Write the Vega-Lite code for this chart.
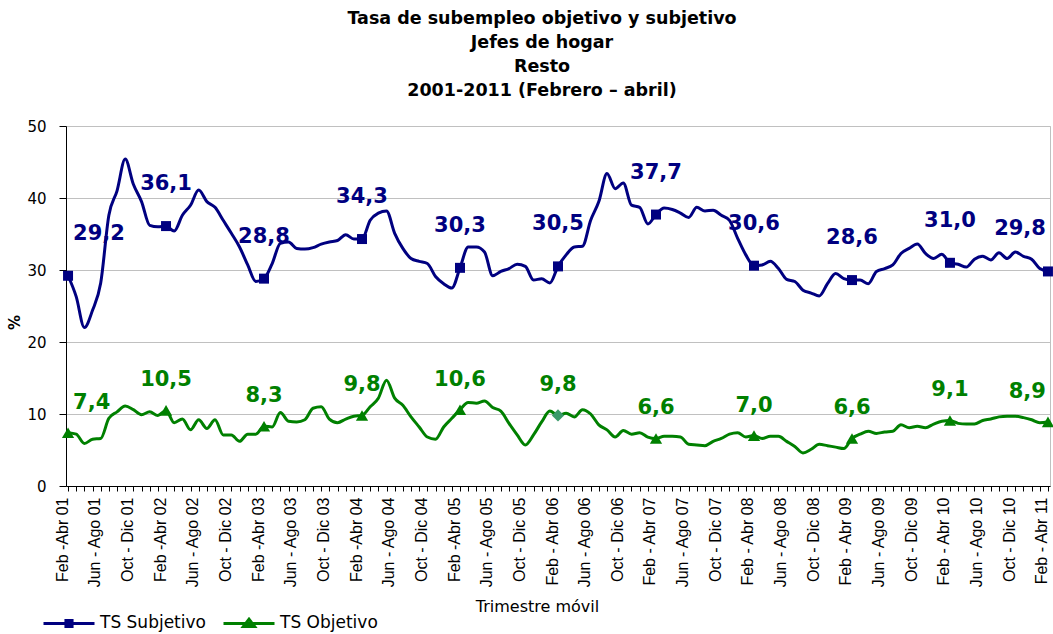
{
  "$schema": "https://vega.github.io/schema/vega-lite/v6.json",
  "width": 984,
  "height": 360,
  "autosize": {"type": "none"},
  "padding": {"left": 66, "top": 126, "right": 3, "bottom": 148},
  "background": "white",
  "title": {
    "text": ["Tasa de subempleo objetivo y subjetivo", "Jefes de hogar", "Resto", "2001-2011 (Febrero – abril)"],
    "anchor": "middle",
    "font": "DejaVu Sans",
    "fontSize": 17.5,
    "fontWeight": "bold",
    "color": "black",
    "lineHeight": 24,
    "offset": 20,
    "dx": -16
  },
  "data": {
    "values": [
      {"t": "Feb -Abr 01", "TS Subjetivo": 29.2, "TS Objetivo": 7.4},
      {"t": "Mar - May 01", "TS Subjetivo": 26.3, "TS Objetivo": 7.2},
      {"t": "Abr - Jun 01", "TS Subjetivo": 22.0, "TS Objetivo": 5.9},
      {"t": "May - Jul 01", "TS Subjetivo": 24.4, "TS Objetivo": 6.5},
      {"t": "Jun - Ago 01", "TS Subjetivo": 28.2, "TS Objetivo": 6.6},
      {"t": "Jul - Sep 01", "TS Subjetivo": 37.6, "TS Objetivo": 9.4},
      {"t": "Ago - Oct 01", "TS Subjetivo": 41.0, "TS Objetivo": 10.3},
      {"t": "Sep - Nov 01", "TS Subjetivo": 45.4, "TS Objetivo": 11.1},
      {"t": "Oct - Dic 01", "TS Subjetivo": 41.9, "TS Objetivo": 10.6},
      {"t": "Nov - Ene 02", "TS Subjetivo": 39.5, "TS Objetivo": 9.9},
      {"t": "Dic - Feb 02", "TS Subjetivo": 36.2, "TS Objetivo": 10.3},
      {"t": "Ene - Mar 02", "TS Subjetivo": 36.0, "TS Objetivo": 9.8},
      {"t": "Feb -Abr 02", "TS Subjetivo": 36.1, "TS Objetivo": 10.5},
      {"t": "Mar - May 02", "TS Subjetivo": 35.4, "TS Objetivo": 8.8},
      {"t": "Abr - Jun 02", "TS Subjetivo": 37.6, "TS Objetivo": 9.3},
      {"t": "May - Jul 02", "TS Subjetivo": 39.0, "TS Objetivo": 7.8},
      {"t": "Jun - Ago 02", "TS Subjetivo": 41.1, "TS Objetivo": 9.2},
      {"t": "Jul - Sep 02", "TS Subjetivo": 39.5, "TS Objetivo": 8.0},
      {"t": "Ago - Oct 02", "TS Subjetivo": 38.7, "TS Objetivo": 9.2},
      {"t": "Sep - Nov 02", "TS Subjetivo": 36.9, "TS Objetivo": 7.1},
      {"t": "Oct - Dic 02", "TS Subjetivo": 35.1, "TS Objetivo": 7.1},
      {"t": "Nov - Ene 03", "TS Subjetivo": 33.2, "TS Objetivo": 6.2},
      {"t": "Dic - Feb 03", "TS Subjetivo": 30.7, "TS Objetivo": 7.2},
      {"t": "Ene - Mar 03", "TS Subjetivo": 28.4, "TS Objetivo": 7.2},
      {"t": "Feb -Abr 03", "TS Subjetivo": 28.8, "TS Objetivo": 8.3},
      {"t": "Mar - May 03", "TS Subjetivo": 30.9, "TS Objetivo": 8.2},
      {"t": "Abr - Jun 03", "TS Subjetivo": 33.7, "TS Objetivo": 10.2},
      {"t": "May - Jul 03", "TS Subjetivo": 33.9, "TS Objetivo": 9.0},
      {"t": "Jun - Ago 03", "TS Subjetivo": 33.0, "TS Objetivo": 8.9},
      {"t": "Jul - Sep 03", "TS Subjetivo": 32.9, "TS Objetivo": 9.2},
      {"t": "Ago - Oct 03", "TS Subjetivo": 33.1, "TS Objetivo": 10.8},
      {"t": "Sep - Nov 03", "TS Subjetivo": 33.6, "TS Objetivo": 11.0},
      {"t": "Oct - Dic 03", "TS Subjetivo": 33.9, "TS Objetivo": 9.3},
      {"t": "Nov - Ene 04", "TS Subjetivo": 34.1, "TS Objetivo": 8.8},
      {"t": "Dic - Feb 04", "TS Subjetivo": 34.9, "TS Objetivo": 9.3},
      {"t": "Ene - Mar 04", "TS Subjetivo": 34.3, "TS Objetivo": 9.7},
      {"t": "Feb -Abr 04", "TS Subjetivo": 34.3, "TS Objetivo": 9.8},
      {"t": "Mar - May 04", "TS Subjetivo": 36.9, "TS Objetivo": 11.0},
      {"t": "Abr - Jun 04", "TS Subjetivo": 37.9, "TS Objetivo": 12.2},
      {"t": "May - Jul 04", "TS Subjetivo": 38.2, "TS Objetivo": 14.7},
      {"t": "Jun - Ago 04", "TS Subjetivo": 35.1, "TS Objetivo": 12.2},
      {"t": "Jul - Sep 04", "TS Subjetivo": 33.0, "TS Objetivo": 11.2},
      {"t": "Ago - Oct 04", "TS Subjetivo": 31.6, "TS Objetivo": 9.6},
      {"t": "Sep - Nov 04", "TS Subjetivo": 31.2, "TS Objetivo": 8.2},
      {"t": "Oct - Dic 04", "TS Subjetivo": 30.9, "TS Objetivo": 6.8},
      {"t": "Nov - Ene 05", "TS Subjetivo": 29.1, "TS Objetivo": 6.5},
      {"t": "Dic - Feb 05", "TS Subjetivo": 28.1, "TS Objetivo": 8.2},
      {"t": "Ene - Mar 05", "TS Subjetivo": 27.5, "TS Objetivo": 9.4},
      {"t": "Feb -Abr 05", "TS Subjetivo": 30.3, "TS Objetivo": 10.6},
      {"t": "Mar - May 05", "TS Subjetivo": 33.2, "TS Objetivo": 11.6},
      {"t": "Abr - Jun 05", "TS Subjetivo": 33.2, "TS Objetivo": 11.5},
      {"t": "May - Jul 05", "TS Subjetivo": 32.5, "TS Objetivo": 11.8},
      {"t": "Jun - Ago 05", "TS Subjetivo": 29.2, "TS Objetivo": 10.9},
      {"t": "Jul - Sep 05", "TS Subjetivo": 29.8, "TS Objetivo": 10.4},
      {"t": "Ago - Oct 05", "TS Subjetivo": 30.2, "TS Objetivo": 8.7},
      {"t": "Sep - Nov 05", "TS Subjetivo": 30.8, "TS Objetivo": 7.1},
      {"t": "Oct - Dic 05", "TS Subjetivo": 30.5, "TS Objetivo": 5.7},
      {"t": "Nov - Ene 06", "TS Subjetivo": 28.6, "TS Objetivo": 7.1},
      {"t": "Dic - Feb 06", "TS Subjetivo": 28.8, "TS Objetivo": 8.9},
      {"t": "Ene - Mar 06", "TS Subjetivo": 28.2, "TS Objetivo": 10.4},
      {"t": "Feb - Abr 06", "TS Subjetivo": 30.5, "TS Objetivo": 9.8},
      {"t": "Mar - May 06", "TS Subjetivo": 32.1, "TS Objetivo": 10.1},
      {"t": "Abr - Jun 06", "TS Subjetivo": 33.2, "TS Objetivo": 9.6},
      {"t": "May - Jul 06", "TS Subjetivo": 33.3, "TS Objetivo": 10.6},
      {"t": "Jun - Ago 06", "TS Subjetivo": 36.9, "TS Objetivo": 10.0},
      {"t": "Jul - Sep 06", "TS Subjetivo": 39.5, "TS Objetivo": 8.5},
      {"t": "Ago - Oct 06", "TS Subjetivo": 43.4, "TS Objetivo": 7.8},
      {"t": "Sep - Nov 06", "TS Subjetivo": 41.3, "TS Objetivo": 6.8},
      {"t": "Oct - Dic 06", "TS Subjetivo": 42.1, "TS Objetivo": 7.7},
      {"t": "Nov - Ene 07", "TS Subjetivo": 39.0, "TS Objetivo": 7.2},
      {"t": "Dic - Feb 07", "TS Subjetivo": 38.7, "TS Objetivo": 7.4},
      {"t": "Ene - Mar 07", "TS Subjetivo": 36.4, "TS Objetivo": 6.8},
      {"t": "Feb - Abr 07", "TS Subjetivo": 37.7, "TS Objetivo": 6.6},
      {"t": "Mar - May 07", "TS Subjetivo": 38.6, "TS Objetivo": 6.9},
      {"t": "Abr - Jun 07", "TS Subjetivo": 38.4, "TS Objetivo": 6.9},
      {"t": "May - Jul 07", "TS Subjetivo": 37.9, "TS Objetivo": 6.8},
      {"t": "Jun - Ago 07", "TS Subjetivo": 37.3, "TS Objetivo": 5.8},
      {"t": "Jul - Sep 07", "TS Subjetivo": 38.7, "TS Objetivo": 5.7},
      {"t": "Ago - Oct 07", "TS Subjetivo": 38.2, "TS Objetivo": 5.6},
      {"t": "Sep - Nov 07", "TS Subjetivo": 38.3, "TS Objetivo": 6.2},
      {"t": "Oct - Dic 07", "TS Subjetivo": 37.6, "TS Objetivo": 6.6},
      {"t": "Nov - Ene 08", "TS Subjetivo": 36.9, "TS Objetivo": 7.2},
      {"t": "Dic - Feb 08", "TS Subjetivo": 34.4, "TS Objetivo": 7.4},
      {"t": "Ene - Mar 08", "TS Subjetivo": 32.1, "TS Objetivo": 6.8},
      {"t": "Feb - Abr 08", "TS Subjetivo": 30.6, "TS Objetivo": 7.0},
      {"t": "Mar - May 08", "TS Subjetivo": 30.7, "TS Objetivo": 6.6},
      {"t": "Abr - Jun 08", "TS Subjetivo": 31.2, "TS Objetivo": 6.9},
      {"t": "May - Jul 08", "TS Subjetivo": 30.2, "TS Objetivo": 6.9},
      {"t": "Jun - Ago 08", "TS Subjetivo": 28.7, "TS Objetivo": 6.2},
      {"t": "Jul - Sep 08", "TS Subjetivo": 28.4, "TS Objetivo": 5.5},
      {"t": "Ago - Oct 08", "TS Subjetivo": 27.2, "TS Objetivo": 4.6},
      {"t": "Sep - Nov 08", "TS Subjetivo": 26.8, "TS Objetivo": 5.1},
      {"t": "Oct - Dic 08", "TS Subjetivo": 26.4, "TS Objetivo": 5.8},
      {"t": "Nov - Ene 09", "TS Subjetivo": 28.1, "TS Objetivo": 5.6},
      {"t": "Dic - Feb 09", "TS Subjetivo": 29.5, "TS Objetivo": 5.4},
      {"t": "Ene - Mar 09", "TS Subjetivo": 28.8, "TS Objetivo": 5.2},
      {"t": "Feb - Abr 09", "TS Subjetivo": 28.6, "TS Objetivo": 6.6},
      {"t": "Mar - May 09", "TS Subjetivo": 28.6, "TS Objetivo": 7.2},
      {"t": "Abr - Jun 09", "TS Subjetivo": 28.1, "TS Objetivo": 7.6},
      {"t": "May - Jul 09", "TS Subjetivo": 29.8, "TS Objetivo": 7.3},
      {"t": "Jun - Ago 09", "TS Subjetivo": 30.2, "TS Objetivo": 7.5},
      {"t": "Jul - Sep 09", "TS Subjetivo": 30.7, "TS Objetivo": 7.6},
      {"t": "Ago - Oct 09", "TS Subjetivo": 32.3, "TS Objetivo": 8.5},
      {"t": "Sep - Nov 09", "TS Subjetivo": 33.0, "TS Objetivo": 8.1},
      {"t": "Oct - Dic 09", "TS Subjetivo": 33.6, "TS Objetivo": 8.3},
      {"t": "Nov - Ene 10", "TS Subjetivo": 32.3, "TS Objetivo": 8.1},
      {"t": "Dic - Feb 10", "TS Subjetivo": 31.6, "TS Objetivo": 8.6},
      {"t": "Ene - Mar 10", "TS Subjetivo": 32.2, "TS Objetivo": 9.0},
      {"t": "Feb - Abr 10", "TS Subjetivo": 31.0, "TS Objetivo": 9.1},
      {"t": "Mar - May 10", "TS Subjetivo": 30.8, "TS Objetivo": 8.7},
      {"t": "Abr - Jun 10", "TS Subjetivo": 30.4, "TS Objetivo": 8.6},
      {"t": "May - Jul 10", "TS Subjetivo": 31.5, "TS Objetivo": 8.6},
      {"t": "Jun - Ago 10", "TS Subjetivo": 31.9, "TS Objetivo": 9.1},
      {"t": "Jul - Sep 10", "TS Subjetivo": 31.4, "TS Objetivo": 9.3},
      {"t": "Ago - Oct 10", "TS Subjetivo": 32.4, "TS Objetivo": 9.6},
      {"t": "Sep - Nov 10", "TS Subjetivo": 31.6, "TS Objetivo": 9.7},
      {"t": "Oct - Dic 10", "TS Subjetivo": 32.5, "TS Objetivo": 9.7},
      {"t": "Nov - Ene 11", "TS Subjetivo": 31.9, "TS Objetivo": 9.5},
      {"t": "Dic - Feb 11", "TS Subjetivo": 31.5, "TS Objetivo": 9.2},
      {"t": "Ene - Mar 11", "TS Subjetivo": 30.2, "TS Objetivo": 8.8},
      {"t": "Feb - Abr 11", "TS Subjetivo": 29.8, "TS Objetivo": 8.9}
    ]
  },
  "transform": [{"fold": ["TS Subjetivo", "TS Objetivo"], "as": ["serie", "valor"]}],
  "encoding": {
    "x": {
      "field": "t",
      "type": "ordinal",
      "sort": null,
      "scale": {"type": "point", "padding": 0.25},
      "axis": {
        "title": "Trimestre móvil",
        "labelAngle": -90,
        "labelAlign": "right",
        "labelBaseline": "middle",
        "labelFont": "Liberation Sans",
        "labelFontSize": 16,
        "labelColor": "black",
        "labelPadding": 6,
        "labelOffset": -6,
        "labelOverlap": false,
        "labelBound": false,
        "labelExpr": "test(/^(Feb|Jun|Oct)/, datum.value) ? datum.value : ''",
        "tickSize": 5,
        "tickColor": "black",
        "domainColor": "black",
        "grid": false,
        "titleFont": "DejaVu Sans",
        "titleFontSize": 16,
        "titleFontWeight": "normal",
        "titleColor": "black",
        "titleX": 471,
        "titleY": 120,
        "titleAlign": "center",
        "titleBaseline": "middle"
      }
    },
    "y": {
      "field": "valor",
      "type": "quantitative",
      "scale": {"domain": [0, 50], "nice": false},
      "axis": {
        "title": "%",
        "values": [0, 10, 20, 30, 40, 50],
        "grid": true,
        "gridColor": "#c0c0c0",
        "domainColor": "black",
        "tickColor": "black",
        "tickSize": 7,
        "labelFont": "DejaVu Sans",
        "labelFontSize": 15,
        "labelColor": "black",
        "labelPadding": 13,
        "titleFont": "DejaVu Sans",
        "titleFontSize": 15,
        "titleFontWeight": "bold",
        "titleColor": "black",
        "titleX": -52,
        "titleY": 196,
        "titleAngle": 270,
        "titleAlign": "center",
        "titleBaseline": "middle"
      }
    }
  },
  "layer": [
    {
      "mark": {"type": "line", "strokeWidth": 3, "interpolate": "monotone"},
      "encoding": {
        "order": {"value": null},
        "detail": {"field": "serie", "type": "nominal"},
        "color": {
          "condition": {"test": "datum.serie === 'TS Subjetivo'", "value": "#000080"},
          "value": "#008000"
        }
      }
    },
    {
      "transform": [{"filter": "false"}],
      "mark": {"type": "point", "filled": false, "strokeWidth": 3, "opacity": 1, "size": 2601},
      "encoding": {
        "color": {
          "field": "serie",
          "type": "nominal",
          "scale": {"domain": ["TS Subjetivo", "TS Objetivo"], "range": ["#000080", "#008000"]},
          "legend": {
            "title": null,
            "orient": "none",
            "direction": "horizontal",
            "legendX": -24,
            "legendY": 470,
            "padding": 0,
            "symbolSize": 2601,
            "symbolStrokeWidth": 3,
            "symbolOpacity": 1,
            "labelFont": "DejaVu Sans",
            "labelFontSize": 17,
            "labelColor": "black",
            "labelOffset": 4,
            "columnPadding": 11
          }
        },
        "shape": {
          "field": "serie",
          "type": "nominal",
          "scale": {"domain": ["TS Subjetivo", "TS Objetivo"], "range": ["M-1,0H1M-0.12,-0.12H0.12V0.12H-0.12Z", "M-1,0H1M0,-0.17L0.22,0.12H-0.22Z"]},
          "legend": {
            "title": null,
            "orient": "none",
            "direction": "horizontal",
            "legendX": -24,
            "legendY": 470,
            "padding": 0,
            "symbolSize": 2601,
            "symbolStrokeWidth": 3,
            "symbolOpacity": 1,
            "labelFont": "DejaVu Sans",
            "labelFontSize": 17,
            "labelColor": "black",
            "labelOffset": 4,
            "columnPadding": 11
          }
        }
      }
    },
    {
      "transform": [{"filter": "test(/^Feb/, datum.t)"}],
      "mark": {"type": "point", "filled": true, "opacity": 1},
      "encoding": {
        "shape": {
          "condition": [
            {"test": "datum.t === 'Feb - Abr 06' && datum.serie === 'TS Objetivo'", "value": "diamond"},
            {"test": "datum.serie === 'TS Subjetivo'", "value": "square"}
          ],
          "value": "triangle-up"
        },
        "size": {
          "condition": {"test": "datum.serie === 'TS Subjetivo'", "value": 100},
          "value": 150
        },
        "color": {
          "condition": [
            {"test": "datum.t === 'Feb - Abr 06' && datum.serie === 'TS Objetivo'", "value": "#3a9a6a"},
            {"test": "datum.serie === 'TS Subjetivo'", "value": "#000080"}
          ],
          "value": "#008000"
        }
      }
    },
    {
      "transform": [{"filter": "test(/^Feb/, datum.t)"}],
      "mark": {
        "type": "text",
        "font": "DejaVu Sans",
        "fontSize": 21,
        "fontWeight": "bold",
        "baseline": "middle",
        "align": {"expr": "datum.t === 'Feb -Abr 01' ? 'left' : (datum.t === 'Feb - Abr 11' ? 'right' : 'center')"},
        "dx": {"expr": "datum.t === 'Feb -Abr 01' ? 5 : (datum.t === 'Feb - Abr 11' ? -2 : 0)"},
        "dy": {"expr": "datum.serie === 'TS Subjetivo' ? -42 : -30"}
      },
      "encoding": {
        "text": {"field": "valor", "type": "quantitative", "format": ".1f"},
        "color": {
          "condition": {"test": "datum.serie === 'TS Subjetivo'", "value": "#000080"},
          "value": "#008000"
        }
      }
    }
  ],
  "config": {
    "view": {"stroke": "#c0c0c0", "strokeWidth": 1},
    "locale": {
      "number": {"decimal": ",", "thousands": ".", "grouping": [3], "currency": ["", " €"]}
    }
  }
}
